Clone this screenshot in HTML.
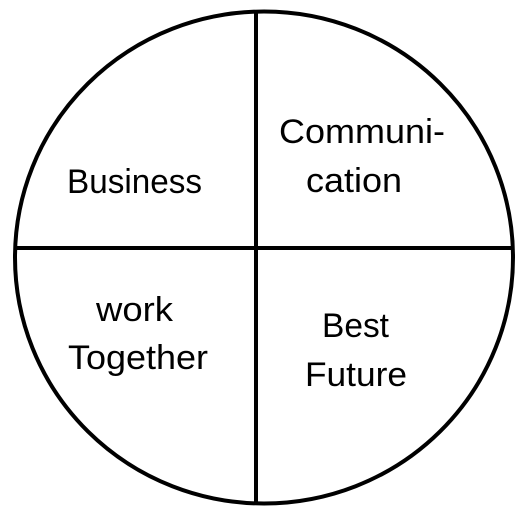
<!DOCTYPE html>
<html><head><meta charset="utf-8"><style>html,body{margin:0;padding:0;background:#fff}svg{display:block}</style></head>
<body>
<svg width="520" height="521" viewBox="0 0 520 521" xmlns="http://www.w3.org/2000/svg">
<ellipse cx="264" cy="257.5" rx="249" ry="246" fill="#fff" stroke="#000" stroke-width="4"/>
<line x1="256" y1="12" x2="256" y2="503" stroke="#000" stroke-width="4"/>
<line x1="15" y1="248" x2="513" y2="248" stroke="#000" stroke-width="4"/>
<g font-family="Liberation Sans, sans-serif" font-size="34" fill="#000">
<text x="67" y="193" textLength="135" lengthAdjust="spacingAndGlyphs">Business</text>
<text x="279" y="143" textLength="166" lengthAdjust="spacingAndGlyphs">Communi-</text>
<text x="306" y="192" textLength="96" lengthAdjust="spacingAndGlyphs">cation</text>
<text x="96" y="321" textLength="77" lengthAdjust="spacingAndGlyphs">work</text>
<text x="68" y="369" textLength="140" lengthAdjust="spacingAndGlyphs">Together</text>
<text x="322" y="337" textLength="67" lengthAdjust="spacingAndGlyphs">Best</text>
<text x="305" y="386" textLength="102" lengthAdjust="spacingAndGlyphs">Future</text>
</g>
</svg>
</body></html>
